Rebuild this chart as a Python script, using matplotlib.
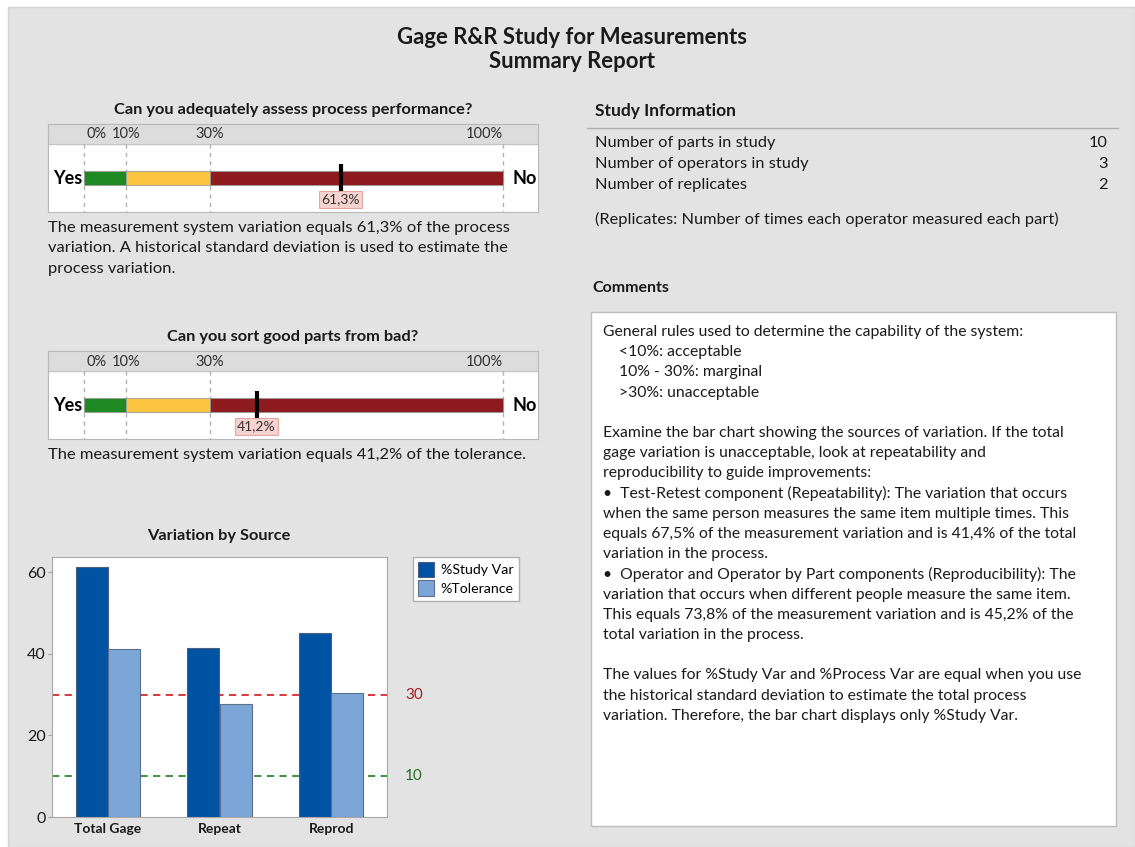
import matplotlib
matplotlib.use("Agg")
import matplotlib.pyplot as plt
from matplotlib.patches import Rectangle
import numpy as np

plt.rcParams['font.family'] = ['Lato', 'DejaVu Sans']

# ---- data ----
zone_edges = [0, 10, 30, 100]
zone_colors = ['#1f8a24', '#fbc53f', '#8e1c1f']
zone_labels = ['0%', '10%', '30%', '100%']

gauge_titles = ['Can you adequately assess process performance?',
                'Can you sort good parts from bad?']
gauge_values = [61.3, 41.2]
gauge_notes = [
    ['The measurement system variation equals 61,3% of the process',
     'variation. A historical standard deviation is used to estimate the',
     'process variation.'],
    ['The measurement system variation equals 41,2% of the tolerance.'],
]

sources = ['Total Gage', 'Repeat', 'Reprod']
study_var = [61.3, 41.4, 45.2]
tolerance = [41.2, 27.8, 30.4]
ref_lines = [30, 10]
ref_colors = ['#d8282e', '#2b8c2b']
ref_text_colors = ['#a51d22', '#256b25']

info_labels = ['Number of parts in study', 'Number of operators in study',
               'Number of replicates']
info_values = ['10', '3', '2']

comments = [
    'General rules used to determine the capability of the system:',
    '    <10%: acceptable',
    '    10% - 30%: marginal',
    '    >30%: unacceptable',
    '',
    'Examine the bar chart showing the sources of variation. If the total',
    'gage variation is unacceptable, look at repeatability and',
    'reproducibility to guide improvements:',
    '\u2022  Test-Retest component (Repeatability): The variation that occurs',
    'when the same person measures the same item multiple times. This',
    'equals 67,5% of the measurement variation and is 41,4% of the total',
    'variation in the process.',
    '\u2022  Operator and Operator by Part components (Reproducibility): The',
    'variation that occurs when different people measure the same item.',
    'This equals 73,8% of the measurement variation and is 45,2% of the',
    'total variation in the process.',
    '',
    'The values for %Study Var and %Process Var are equal when you use',
    'the historical standard deviation to estimate the total process',
    'variation. Therefore, the bar chart displays only %Study Var.',
]

W, H = 1135, 847
fig = plt.figure(figsize=(W / 100, H / 100), dpi=100)
fig.patch.set_facecolor('white')

canvas = fig.add_axes([0, 0, 1, 1])
canvas.set_xlim(0, W)
canvas.set_ylim(H, 0)
canvas.axis('off')
canvas.add_patch(Rectangle((8, 7), W - 8, H - 7, fc='#e3e3e3', ec='#d4d4d4', lw=1))


def px_axes(x0, y0, x1, y1):
    return fig.add_axes([x0 / W, 1 - y1 / H, (x1 - x0) / W, (y1 - y0) / H])


TXT = '#1a1a1a'

# titles
canvas.text(572, 37, 'Gage R&R Study for Measurements', ha='center', va='center',
            fontsize=15.9, fontweight='bold', color=TXT)
canvas.text(572, 61, 'Summary Report', ha='center', va='center',
            fontsize=15.9, fontweight='bold', color=TXT)


def fmt(v):
    return f'{v:.1f}'.replace('.', ',') + '%'


def draw_gauge(top, value, title, notes):
    canvas.text(293, top - 14, title, ha='center', va='center', fontsize=11.75,
                fontweight='bold', color=TXT)
    ax = px_axes(48, top, 538, top + 88)
    ax.set_xlim(-8.6, 108.4)
    ax.set_ylim(88, 0)
    ax.set_facecolor('white')
    for s in ax.spines.values():
        s.set_color('#b8b8b8')
    ax.set_xticks([])
    ax.set_yticks([])
    ax.axhspan(0, 20, color='#dcdcdc', zorder=0)
    ax.axhline(20, color='#c4c4c4', lw=0.8)
    ax.vlines(zone_edges, 20, 88, colors='#b0b0b0', linestyles=(0, (3, 3)), lw=1)
    lefts = zone_edges[:-1]
    widths = np.diff(zone_edges)
    ax.barh(54, widths, left=lefts, height=14, color=zone_colors,
            edgecolor='#9a9a9a', lw=0.6, zorder=2)
    aligns = ['left', 'center', 'center', 'right']
    offs = [0.7, 0, 0, 0]
    for e, lab, a, o in zip(zone_edges, zone_labels, aligns, offs):
        ax.text(e + o, 10.5, lab, ha=a, va='center', fontsize=10.5, color='#303030')
    ax.text(-0.5, 54, 'Yes', ha='right', va='center', fontsize=13,
            fontweight='bold', color='black')
    ax.text(102.2, 54, 'No', ha='left', va='center', fontsize=13,
            fontweight='bold', color='black')
    ax.vlines(value, 40, 68, colors='black', lw=3, zorder=4)
    ax.text(value, 75.5, fmt(value), ha='center', va='center', fontsize=10,
            color='#333333', zorder=5,
            bbox=dict(boxstyle='square,pad=0.15', fc='#f6d3cf', ec='#e2a9a3', lw=0.8))
    for i, line in enumerate(notes):
        canvas.text(48, top + 104 + i * 20.5, line, ha='left', va='center',
                    fontsize=11.85, color=TXT)


draw_gauge(124, gauge_values[0], gauge_titles[0], gauge_notes[0])
draw_gauge(351, gauge_values[1], gauge_titles[1], gauge_notes[1])

# ---- bar chart ----
canvas.text(219, 536, 'Variation by Source', ha='center', va='center',
            fontsize=11.75, fontweight='bold', color=TXT)
bx = px_axes(52, 557, 387, 817)
x = np.arange(len(sources))
bw = 0.287
bx.bar(x - bw / 2, study_var, bw, color='#0052a3', edgecolor='#4b5e7e', lw=0.8,
       label='%Study Var', zorder=3)
bx.bar(x + bw / 2, tolerance, bw, color='#7ca6d8', edgecolor='#5b6f8c', lw=0.8,
       label='%Tolerance', zorder=3)
for val, c, tc in zip(ref_lines, ref_colors, ref_text_colors):
    bx.axhline(val, color=c, ls=(0, (4, 3)), lw=1.3, zorder=2)
    bx.text(1.054, val, str(val), transform=bx.get_yaxis_transform(), ha='left',
            va='center', fontsize=11, color=tc)
bx.set_xlim(-0.5, 2.5)
bx.set_ylim(0, 63.7)
bx.set_yticks([0, 20, 40, 60])
bx.set_xticks(x)
bx.set_xticklabels(sources, fontweight='bold', fontsize=10)
bx.tick_params(axis='y', labelsize=11.5, length=3, pad=1.5, color='#a0a0a0',
               labelcolor=TXT)
bx.tick_params(axis='x', length=0, pad=4, labelcolor=TXT)
for s in bx.spines.values():
    s.set_color('#a8a8a8')
bx.legend(loc='upper left', bbox_to_anchor=(1.078, 1.0), borderaxespad=0,
          fancybox=False, edgecolor='#b0b0b0', fontsize=10.2, handlelength=1.15,
          handleheight=1.3, handletextpad=0.45, labelspacing=0.2, borderpad=0.35,
          framealpha=1)

# ---- study information ----
canvas.text(595, 111, 'Study Information', ha='left', va='center', fontsize=12.5,
            fontweight='bold', color=TXT)
canvas.plot([587, 1118], [128, 128], color='#b0b0b0', lw=1)
for i, (lab, val) in enumerate(zip(info_labels, info_values)):
    y = 143 + i * 20.8
    canvas.text(595, y, lab, ha='left', va='center', fontsize=11.8, color=TXT)
    canvas.text(1108, y, val, ha='right', va='center', fontsize=11.8, color=TXT)
canvas.text(595, 219, '(Replicates: Number of times each operator measured each part)',
            ha='left', va='center', fontsize=11.75, color=TXT)

# ---- comments ----
canvas.text(592, 288, 'Comments', ha='left', va='center', fontsize=11.5,
            fontweight='bold', color=TXT)
canvas.add_patch(Rectangle((591, 312), 525, 514, fc='white', ec='#bdbdbd', lw=1))
for i, line in enumerate(comments):
    canvas.text(603, 332 + i * 20.2, line, ha='left', va='center', fontsize=11.3,
                color=TXT)

fig.savefig('out.png', dpi=100)
